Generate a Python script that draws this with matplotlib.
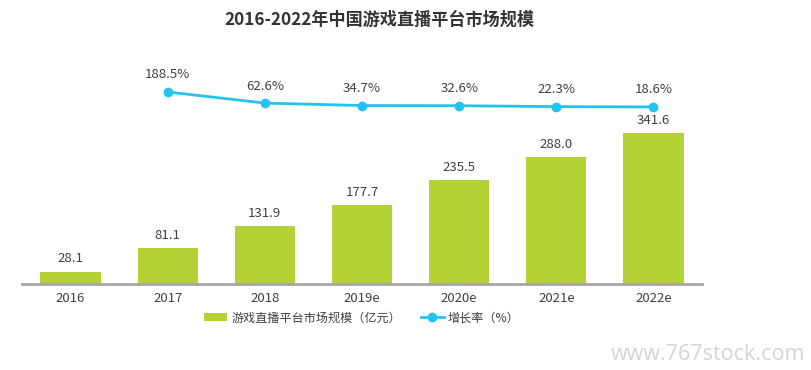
import matplotlib.pyplot as plt
from matplotlib.lines import Line2D
from matplotlib.patches import Patch

plt.rcParams['font.family'] = ['Noto Sans CJK SC', 'DejaVu Sans']

years = ['2016', '2017', '2018', '2019e', '2020e', '2021e', '2022e']
market = [28.1, 81.1, 131.9, 177.7, 235.5, 288.0, 341.6]
growth_years = ['2017', '2018', '2019e', '2020e', '2021e', '2022e']
growth = [188.5, 62.6, 34.7, 32.6, 22.3, 18.6]

bar_color = '#b2d235'
line_color = '#22c3ef'
text_color = '#404040'

W, H = 811, 370
fig = plt.figure(figsize=(W / 100, H / 100), dpi=100)
# axes from x=22..702 px, y=60..284 px
ax = fig.add_axes([22 / W, 1 - 284 / H, 680 / W, 224 / H])
x = list(range(len(years)))
ax.bar(x, market, width=0.62, color=bar_color, zorder=2)
ax.set_xlim(-0.5, 6.5)
ax.set_ylim(0, 507)
for xi, v in zip(x, market):
    ax.text(xi, v + 14, f'{v:.1f}', ha='center', va='bottom', fontsize=9.5, color=text_color)

for s in ['top', 'right', 'left']:
    ax.spines[s].set_visible(False)
ax.spines['bottom'].set_color('#a6a6a6')
ax.spines['bottom'].set_linewidth(2)
ax.set_yticks([])
ax.set_xticks(x)
ax.set_xticklabels(years, fontsize=9.5, color=text_color)
ax.tick_params(axis='x', length=0, pad=6)

ax2 = ax.twinx()
ax2.set_ylim(-1993, 552)
gx = [years.index(y) for y in growth_years]
ax2.plot(gx, growth, color=line_color, lw=2, marker='o', ms=6, zorder=3)
for xi, v in zip(gx, growth):
    ax2.text(xi, v + 120, f'{v}%', ha='center', va='bottom', fontsize=9.5, color=text_color)
ax2.axis('off')

fig.text(379 / W, 1 - 20 / H, '2016-2022年中国游戏直播平台市场规模', ha='center', va='center',
         fontsize=12.3, fontweight='bold', color='#333333')

handles = [Patch(facecolor=bar_color, edgecolor='none'),
           Line2D([0], [0], color=line_color, lw=2, marker='o', ms=6)]
fig.legend(handles, ['游戏直播平台市场规模（亿元）', '增长率（%）'], loc='center',
           bbox_to_anchor=(362 / W, 1 - 318 / H), ncol=2, frameon=False,
           fontsize=8.7, labelcolor=text_color, handlelength=1.9, handleheight=0.6,
           columnspacing=1.6, handletextpad=0.35)

fig.text(805 / W, 1 - 354 / H, 'www.767stock.com', ha='right', va='center',
         fontsize=15.5, color='#d4d4d4', family=['Open Sans', 'DejaVu Sans'])

fig.savefig('out.png', dpi=100)
